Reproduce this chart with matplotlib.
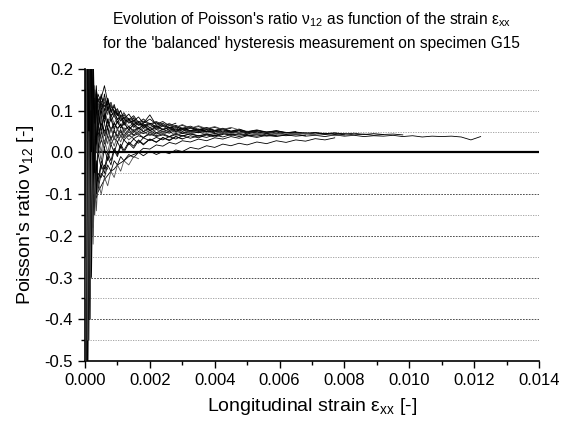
import numpy as np
import matplotlib
matplotlib.use("Agg")
import matplotlib.pyplot as plt
from matplotlib.ticker import MultipleLocator, FormatStrFormatter

plt.rcParams['font.family'] = ['Liberation Sans', 'DejaVu Sans']
plt.rcParams['mathtext.fontset'] = 'custom'
plt.rcParams['mathtext.rm'] = 'Liberation Sans'
plt.rcParams['mathtext.it'] = 'Liberation Sans:italic'
plt.rcParams['axes.unicode_minus'] = False

# strain grid in units of 1e-3 (curves are truncated to their own length)
strain_grid = [0.02, 0.05, 0.08, 0.12, 0.16, 0.2, 0.25, 0.3, 0.35, 0.4,
               0.5, 0.6, 0.7, 0.8, 0.9, 1.0, 1.1, 1.2, 1.35, 1.5,
               1.65, 1.8, 2.0, 2.2, 2.4, 2.6, 2.8, 3.0, 3.25, 3.5,
               3.75, 4.0, 4.25, 4.5, 4.75, 5.0, 5.3, 5.6, 5.9, 6.2,
               6.5, 6.8, 7.1, 7.4, 7.7, 8.0, 8.3, 8.6, 8.9, 9.2,
               9.5, 9.8, 10.1, 10.4, 10.7, 11.0, 11.3, 11.6, 11.9, 12.2]

# Poisson's ratio for each loading cycle
cycle01 = [0.35, -0.6, 0.25, -0.2, 0.12, -0.05, 0.1, 0.02, 0.08, 0.03,
           0.07, 0.04, 0.06, 0.03, 0.05, 0.04, 0.055, 0.035, 0.05, 0.04,
           0.045, 0.035, 0.048, 0.04, 0.045, 0.038, 0.046, 0.04, 0.044, 0.039,
           0.043, 0.04, 0.045, 0.041, 0.044, 0.04, 0.043, 0.039, 0.042, 0.04,
           0.043, 0.039, 0.041, 0.038, 0.042, 0.039, 0.041, 0.038, 0.04, 0.039,
           0.041, 0.038, 0.04, 0.037, 0.039, 0.038, 0.039, 0.037, 0.03, 0.038]
cycle02 = [-0.7, 0.5, -0.3, 0.3, -0.15, 0.18, 0.05, 0.14, 0.09, 0.13,
           0.11, 0.12, 0.1, 0.09, 0.095, 0.08, 0.085, 0.075, 0.08, 0.07,
           0.072, 0.065, 0.07, 0.062, 0.066, 0.058, 0.062, 0.055, 0.06, 0.053,
           0.057, 0.052, 0.055, 0.05, 0.053, 0.049, 0.052, 0.048, 0.05, 0.047,
           0.049, 0.046, 0.048, 0.045, 0.047, 0.044, 0.046, 0.043, 0.045, 0.043,
           0.044, 0.042]
cycle03 = [0.8, -0.4, 0.4, -0.1, 0.2, 0.02, 0.15, 0.06, 0.12, 0.08,
           0.13, 0.16, 0.12, 0.11, 0.1, 0.09, 0.085, 0.08, 0.072, 0.075,
           0.065, 0.068, 0.06, 0.064, 0.056, 0.06, 0.054, 0.057, 0.05, 0.055,
           0.05, 0.052, 0.048, 0.051, 0.046, 0.05, 0.047, 0.049, 0.045, 0.048,
           0.046, 0.047, 0.044, 0.046, 0.043, 0.045, 0.042, 0.044, 0.041, 0.043]
cycle04 = [-0.9, 0.6, -0.5, 0.2, -0.2, 0.1, -0.05, 0.08, 0.0, 0.06,
           0.03, 0.07, 0.04, 0.06, 0.035, 0.055, 0.04, 0.05, 0.038, 0.052,
           0.042, 0.05, 0.04, 0.048, 0.043, 0.05, 0.041, 0.047, 0.044, 0.049,
           0.042, 0.046, 0.043, 0.047, 0.041, 0.045, 0.042, 0.046, 0.041, 0.044,
           0.042, 0.045, 0.041, 0.043, 0.04, 0.042, 0.041]
cycle05 = [0.5, -0.8, 0.2, -0.35, 0.05, -0.2, -0.05, -0.12, -0.06, -0.09,
           -0.05, -0.06, -0.03, -0.045, -0.02, -0.03, -0.01, -0.02, -0.005, -0.012,
           0.0, -0.008, 0.003, -0.005, 0.002, -0.003, 0.006, 0.002, 0.012, 0.008,
           0.016, 0.012, 0.02, 0.016, 0.022, 0.018, 0.025, 0.021, 0.028, 0.024,
           0.03, 0.027, 0.033, 0.03, 0.035]
cycle06 = [-0.5, 0.3, -0.6, 0.1, -0.3, -0.05, -0.15, -0.08, -0.11, -0.095,
           -0.08, -0.065, -0.055, -0.045, -0.04, -0.03, -0.025, -0.02, -0.01, -0.005,
           0.0, 0.01, 0.008, 0.018, 0.015, 0.024, 0.02, 0.028, 0.025, 0.032,
           0.028, 0.035, 0.032, 0.038, 0.034, 0.04, 0.036, 0.041, 0.038, 0.042,
           0.039, 0.041]
cycle07 = [0.3, -0.3, 0.6, -0.2, 0.25, -0.1, 0.12, 0.03, 0.1, 0.07,
           0.12, 0.09, 0.13, 0.1, 0.085, 0.095, 0.075, 0.085, 0.07, 0.078,
           0.066, 0.07, 0.09, 0.065, 0.07, 0.06, 0.065, 0.058, 0.063, 0.055,
           0.06, 0.053, 0.058, 0.051, 0.056, 0.05, 0.054, 0.049, 0.052, 0.048]
cycle08 = [-0.4, 0.7, -0.2, 0.15, -0.1, 0.1, 0.0, 0.09, 0.03, 0.1,
           0.06, 0.1, 0.07, 0.085, 0.06, 0.075, 0.058, 0.07, 0.055, 0.065,
           0.05, 0.062, 0.052, 0.058, 0.048, 0.056, 0.05, 0.055, 0.047, 0.053,
           0.048, 0.052, 0.046, 0.05, 0.047, 0.051, 0.045, 0.049]
cycle09 = [0.9, -0.6, 0.1, -0.25, 0.15, -0.15, 0.06, -0.04, 0.04, 0.0,
           0.03, 0.01, 0.04, 0.02, 0.035, 0.025, 0.04, 0.03, 0.042, 0.033,
           0.04, 0.036, 0.044, 0.038, 0.042, 0.037, 0.043, 0.039, 0.045, 0.04,
           0.044, 0.041, 0.046, 0.042, 0.045, 0.043]
cycle10 = [-0.6, 0.4, -0.1, 0.5, 0.0, 0.2, 0.08, 0.15, 0.1, 0.14,
           0.12, 0.13, 0.1, 0.115, 0.09, 0.1, 0.08, 0.09, 0.075, 0.082,
           0.07, 0.075, 0.066, 0.072, 0.062, 0.068, 0.06, 0.065, 0.058, 0.062,
           0.056, 0.06, 0.055, 0.058]
cycle11 = [0.2, -0.9, 0.3, -0.4, 0.08, -0.1, 0.04, -0.02, 0.05, 0.01,
           0.05, 0.02, 0.06, 0.03, 0.055, 0.035, 0.05, 0.04, 0.055, 0.042,
           0.05, 0.045, 0.052, 0.044, 0.05, 0.046, 0.053, 0.045, 0.05, 0.047,
           0.051, 0.048]
cycle12 = [-0.3, 0.5, -0.45, 0.35, -0.1, 0.15, -0.02, 0.11, 0.05, 0.09,
           0.08, 0.1, 0.075, 0.09, 0.07, 0.082, 0.065, 0.075, 0.062, 0.07,
           0.058, 0.066, 0.055, 0.062, 0.054, 0.06, 0.052, 0.058, 0.051, 0.056]
cycle13 = [0.4, -0.5, 0.0, -0.3, -0.05, -0.15, -0.04, -0.1, -0.03, -0.07,
           -0.02, -0.04, 0.0, -0.02, 0.01, -0.005, 0.02, 0.005, 0.025, 0.015,
           0.03, 0.02, 0.032, 0.025, 0.035, 0.03, 0.038, 0.033]
cycle14 = [-0.8, 0.3, -0.15, 0.4, -0.05, 0.25, 0.05, 0.13, 0.07, 0.12,
           0.09, 0.14, 0.1, 0.12, 0.095, 0.105, 0.085, 0.095, 0.078, 0.088,
           0.072, 0.08, 0.068, 0.074, 0.065]
cycle15 = [0.6, -0.35, 0.15, -0.15, 0.1, -0.05, 0.07, 0.02, 0.08, 0.04,
           0.07, 0.05, 0.075, 0.055, 0.07, 0.058, 0.066, 0.055, 0.062, 0.052,
           0.06, 0.05, 0.056]
cycle16 = [-0.2, 0.8, -0.3, 0.2, -0.25, 0.05, -0.1, 0.0, -0.06, 0.02,
           -0.02, 0.03, 0.0, 0.035, 0.015, 0.04, 0.025, 0.045, 0.03, 0.04]
cycle17 = [0.45, -0.7, 0.5, -0.1, 0.3, 0.05, 0.18, 0.1, 0.15, 0.12,
           0.135, 0.11, 0.125, 0.1, 0.11, 0.09, 0.1]
cycle18 = [-0.55, 0.25, -0.35, 0.0, -0.2, -0.08, -0.12, -0.06, -0.1, -0.05,
           -0.06, -0.03, -0.04]
cycle19 = [0.7, -0.5, 0.35, -0.4, 0.3, -0.25, 0.2, -0.1, 0.12, 0.0,
           0.09, 0.04, 0.08, 0.05, 0.07, 0.055, 0.068, 0.05, 0.062, 0.048,
           0.058, 0.05, 0.06, 0.047, 0.055, 0.049, 0.057, 0.046, 0.053, 0.048,
           0.054, 0.045, 0.051, 0.046, 0.052, 0.044, 0.05, 0.045, 0.049, 0.043,
           0.048, 0.044, 0.047, 0.043, 0.046, 0.042]
cycle20 = [-0.45, 0.6, -0.55, 0.3, -0.35, 0.2, -0.2, 0.05, -0.08, 0.04,
           0.0, 0.05, 0.02, 0.06, 0.03, 0.058, 0.036, 0.06, 0.04, 0.056,
           0.044, 0.058, 0.046, 0.055, 0.045, 0.057, 0.047, 0.054, 0.046, 0.052,
           0.045, 0.051, 0.044, 0.05, 0.046, 0.049, 0.044, 0.048, 0.045, 0.047,
           0.044, 0.046, 0.043]
cycle21 = [0.25, -0.75, 0.45, -0.3, 0.35, -0.15, 0.22, -0.02, 0.14, 0.06,
           0.1, 0.08, 0.11, 0.085, 0.1, 0.078, 0.09, 0.07, 0.082, 0.066,
           0.075, 0.062, 0.07, 0.06, 0.066, 0.058, 0.063, 0.055, 0.06, 0.053,
           0.058, 0.052, 0.056, 0.05, 0.055, 0.049, 0.053, 0.048, 0.052, 0.047,
           0.05]
cycle22 = [-0.65, 0.45, -0.25, 0.25, -0.3, 0.1, -0.18, -0.02, -0.1, 0.0,
           -0.04, 0.01, -0.02, 0.02, 0.0, 0.025, 0.01, 0.03, 0.018, 0.032,
           0.022, 0.035, 0.028, 0.036, 0.03, 0.038, 0.032, 0.04, 0.034, 0.04,
           0.036, 0.042, 0.037, 0.043, 0.038, 0.042, 0.039, 0.044, 0.04]
cycle23 = [0.55, -0.45, 0.6, -0.15, 0.15, -0.2, 0.1, -0.05, 0.14, 0.05,
           0.11, 0.07, 0.12, 0.075, 0.09, 0.07, 0.085, 0.065, 0.08, 0.06,
           0.072, 0.058, 0.068, 0.055, 0.064, 0.052, 0.06, 0.05, 0.058, 0.05,
           0.055, 0.049, 0.054, 0.048, 0.052, 0.047, 0.051]
cycle24 = [-0.35, 0.9, -0.4, 0.45, -0.15, 0.3, -0.1, 0.16, 0.04, 0.12,
           0.07, 0.13, 0.09, 0.12, 0.085, 0.1, 0.08, 0.095, 0.072, 0.085,
           0.068, 0.08, 0.065, 0.074, 0.062, 0.07, 0.06, 0.067, 0.058, 0.064,
           0.057, 0.062, 0.055, 0.06, 0.054]
cycle25 = [0.65, -0.55, 0.2, -0.45, 0.1, -0.3, 0.0, -0.15, -0.02, -0.08,
           -0.03, -0.05, -0.01, -0.03, 0.005, -0.01, 0.015, 0.0, 0.022, 0.01,
           0.028, 0.018, 0.032, 0.024, 0.036, 0.028, 0.038, 0.032, 0.04, 0.035,
           0.042, 0.037, 0.043]
cycle26 = [-0.25, 0.35, -0.65, 0.15, -0.4, 0.25, -0.05, 0.13, 0.02, 0.1,
           0.05, 0.09, 0.06, 0.08, 0.055, 0.075, 0.058, 0.072, 0.054, 0.068,
           0.056, 0.066, 0.052, 0.062, 0.054, 0.06, 0.05, 0.058, 0.052, 0.056,
           0.05]
cycle27 = [0.15, -0.4, 0.75, -0.25, 0.4, -0.05, 0.25, 0.07, 0.16, 0.09,
           0.14, 0.1, 0.13, 0.095, 0.115, 0.088, 0.1, 0.08, 0.092, 0.075,
           0.085, 0.07, 0.08, 0.068, 0.074, 0.064, 0.07]
cycle28 = [-0.75, 0.2, -0.45, 0.05, -0.35, 0.0, -0.22, -0.05, -0.14, -0.07,
           -0.1, -0.06, -0.08, -0.045, -0.06, -0.03, -0.045, -0.02, -0.03, -0.01,
           -0.015]

cycles = [cycle01, cycle02, cycle03, cycle04, cycle05, cycle06, cycle07, cycle08, cycle09,
          cycle10, cycle11, cycle12, cycle13, cycle14, cycle15, cycle16, cycle17, cycle18,
          cycle19, cycle20, cycle21, cycle22, cycle23, cycle24, cycle25, cycle26, cycle27,
          cycle28]

fig = plt.figure(figsize=(5.64, 4.23), dpi=100)
ax = fig.add_axes([0.1507, 0.1466, 0.805, 0.6903])

# gridlines: darker dashed on major, light dotted on minor
for yv in [0.15, 0.1, 0.05, -0.05, -0.15, -0.25, -0.35, -0.45]:
    ax.axhline(yv, color='0.6', lw=0.6, ls=(0, (1.5, 1.5)), zorder=1)
for yv in [-0.1, -0.2, -0.3, -0.4]:
    ax.axhline(yv, color='0.2', lw=0.6, ls=(0, (2, 1.5)), zorder=1)

x = np.array(strain_grid) * 1e-3
for i, c in enumerate(cycles):
    col = '0.3' if i % 4 == 3 else 'black'
    ax.plot(x[:len(c)], c, color=col, lw=0.6, zorder=3)

ax.axhline(0.0, color='black', lw=1.6, zorder=2)

ax.set_xlim(0, 0.014)
ax.set_ylim(-0.5, 0.2)
ax.xaxis.set_major_locator(MultipleLocator(0.002))
ax.xaxis.set_minor_locator(MultipleLocator(0.001))
ax.yaxis.set_major_locator(MultipleLocator(0.1))
ax.yaxis.set_minor_locator(MultipleLocator(0.05))
ax.xaxis.set_major_formatter(FormatStrFormatter('%.3f'))
ax.yaxis.set_major_formatter(FormatStrFormatter('%.1f'))
ax.tick_params(which='both', direction='out', labelsize=12, width=1.0)
ax.tick_params(which='major', length=5)
ax.tick_params(which='minor', length=3)
ax.spines['top'].set_visible(False)
ax.spines['right'].set_visible(False)
ax.spines['left'].set_linewidth(1.2)
ax.spines['bottom'].set_linewidth(1.2)

ax.set_xlabel('Longitudinal strain ε$_{\\mathrm{xx}}$ [-]', fontsize=14, labelpad=6)
ax.set_ylabel("Poisson's ratio ν$_{\\mathrm{12}}$ [-]", fontsize=14, labelpad=6)

fig.text(0.553, 0.953, "Evolution of Poisson's ratio ν$_{\\mathrm{12}}$ as function of the strain ε$_{\\mathrm{xx}}$",
         ha='center', va='center', fontsize=11.2)
fig.text(0.553, 0.896, "for the 'balanced' hysteresis measurement on specimen G15",
         ha='center', va='center', fontsize=11.2)

fig.savefig('out.png', dpi=100)
